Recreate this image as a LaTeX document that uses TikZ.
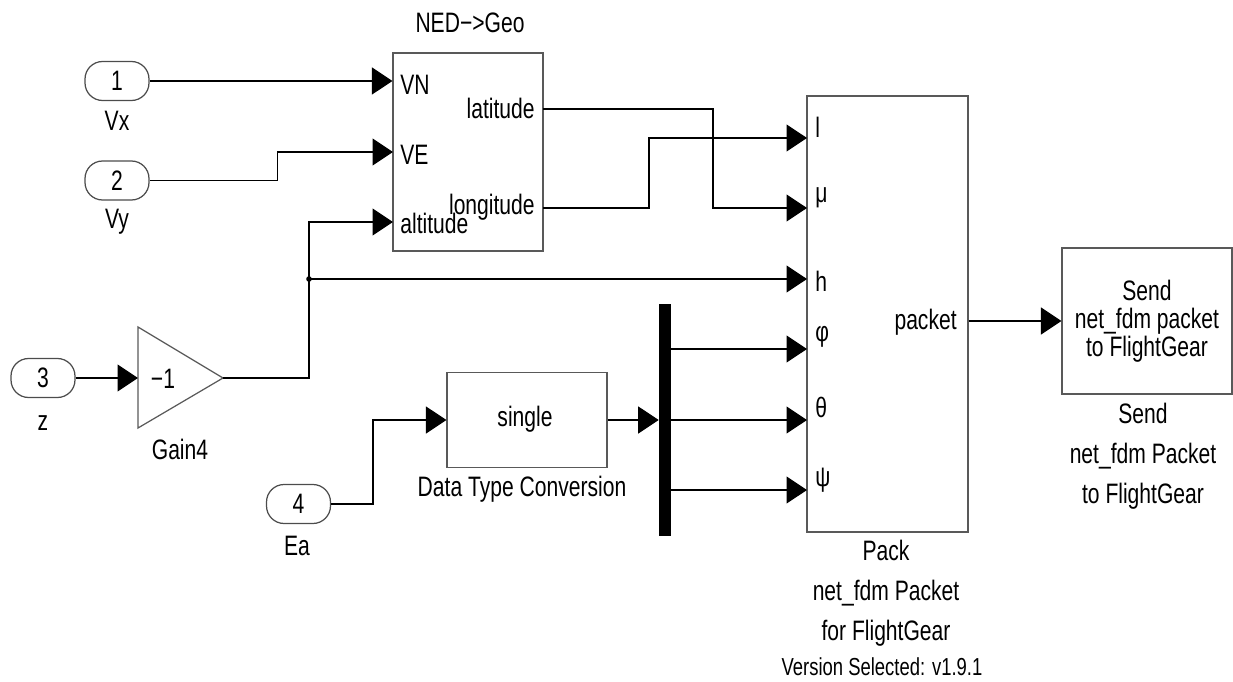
\documentclass[tikz,border=0pt]{standalone}
\usepackage{fontspec}
\setmainfont{Liberation Sans}[FakeStretch=0.75]
\usetikzlibrary{arrows.meta}

\begin{document}
\begin{tikzpicture}[x=0.02cm, y=-0.02cm,
  every node/.style={font=\fontsize{16}{18}\selectfont},
  inport/.style={draw=black!70, line width=0.7pt, rounded corners=10pt,
    minimum width=1.28cm, minimum height=0.78cm, inner sep=0pt},
  block/.style={draw=black!65, line width=0.7pt, inner sep=0pt},
  sig/.style={-{Triangle[length=4.1mm, width=5.4mm]}, line width=0.7pt},
  wire/.style={line width=0.7pt},
  txt/.style={inner sep=0pt, align=center},
  pin/.style={inner sep=0pt, anchor=west},
  pout/.style={inner sep=0pt, anchor=east}
]
\useasboundingbox (0,0) rectangle (1233,682);

% inports
\node[inport] (in1) at (117,81) {1};
\node[txt] (vx) at (117,121) {Vx};
\node[inport] (in2) at (117,180.5) {2};
\node[txt] (vy) at (117,222) {Vy};
\node[inport] (in3) at (43,378) {3};
\node[txt] (zlab) at (43,423) {z};
\node[inport] (in4) at (298.5,504) {4};
\node[txt] (ea) at (297,546) {Ea};

% NED->Geo
\node[block, minimum width=3cm, minimum height=3.96cm] (ned) at (468,152) {};
\node[txt] (nedname) at (470,23) {NED−>Geo};
\node[pin] (vn) at (400,84.5) {VN};
\node[pin] (ve) at (400,155) {VE};
\node[pin] (alt) at (400,223) {altitude};
\node[pout] (lat) at (535,108) {latitude};
\node[pout] (lon) at (535,207) {longitude};
\coordinate (nedVE) at (393,152);
\coordinate (nedAlt) at (393,222);
\coordinate (nedLat) at (543,109);
\coordinate (nedLon) at (543,208);

% gain
\draw[block] (138,327) -- (223,378) -- (138,428) -- cycle;
\node (gain) at (163,378.5) {−1};
\node[txt] (gainname) at (180,449) {Gain4};
\coordinate (gin) at (138,378);
\coordinate (gout) at (223,378);

% conversion and mux
\node[block, minimum width=3.2cm, minimum height=1.9cm] (dtc) at (527,420) {};
\node[txt] (single) at (525,419) {single};
\node[txt] (dtcname) at (522,489) {Data Type Conversion};
\node[fill=black, inner sep=0pt, minimum width=0.24cm, minimum height=4.64cm] (mux) at (665,420) {};

% pack
\node[block, minimum width=3.22cm, minimum height=8.72cm] (pack) at (887.5,314) {};
\node[pin] (pl) at (815,127) {l};
\node[pin] (pmu) at (815,198) {μ};
\node[pin] (ph) at (815,281) {h};
\node[pin] (pphi) at (815,337) {φ};
\node[pin] (pth) at (815,407) {θ};
\node[pin] (ppsi) at (815,480) {ψ};
\node[pout] (pkt) at (957,322) {packet};
\node[txt, font=\fontsize{16}{22.7}\selectfont] (packname) at (886,593)
  {Pack\\net\_fdm Packet\\for FlightGear};
\node[txt, font=\fontsize{14}{16}\selectfont] (version) at (882,667) {Version Selected: v1.9.1};
\coordinate (packL) at (807,138);
\coordinate (packMu) at (807,208);
\coordinate (packH) at (807,279);
\coordinate (packPhi) at (807,349);
\coordinate (packTh) at (807,420);
\coordinate (packPsi) at (807,490);

% send
\node[block, minimum width=3.4cm, minimum height=2.92cm, align=center,
  font=\fontsize{16}{16}\selectfont] (send) at (1147,321)
  {Send\\net\_fdm packet\\to FlightGear};
\node[txt, font=\fontsize{16}{22.7}\selectfont] (sendname) at (1143,456)
  {Send\\net\_fdm Packet\\to FlightGear};

% signals
\draw[sig] (in1.east) -- (in1 -| ned.west);
\draw[sig] (in2.east) -- ++(128,0) |- (nedVE);
\draw[sig] (in3.east) -- (gin);
\coordinate (jn) at (309,279);
\draw[wire] (gout) -| (jn);
\draw[sig] (jn) |- (nedAlt);
\draw[sig] (jn) -- (packH);
\fill (jn) circle[radius=1.6pt];
\draw[sig] (nedLat) -- ++(170,0) |- (packMu);
\draw[sig] (nedLon) -- ++(106,0) |- (packL);
\draw[sig] (in4.east) -- ++(42,0) |- (dtc.west);
\draw[sig] (dtc.east) -- (mux.west);
\draw[sig] (mux.east |- packPhi) -- (packPhi);
\draw[sig] (mux.east |- packTh) -- (packTh);
\draw[sig] (mux.east |- packPsi) -- (packPsi);
\draw[sig] (pack.east |- send) -- (send.west);
\end{tikzpicture}
\end{document}
